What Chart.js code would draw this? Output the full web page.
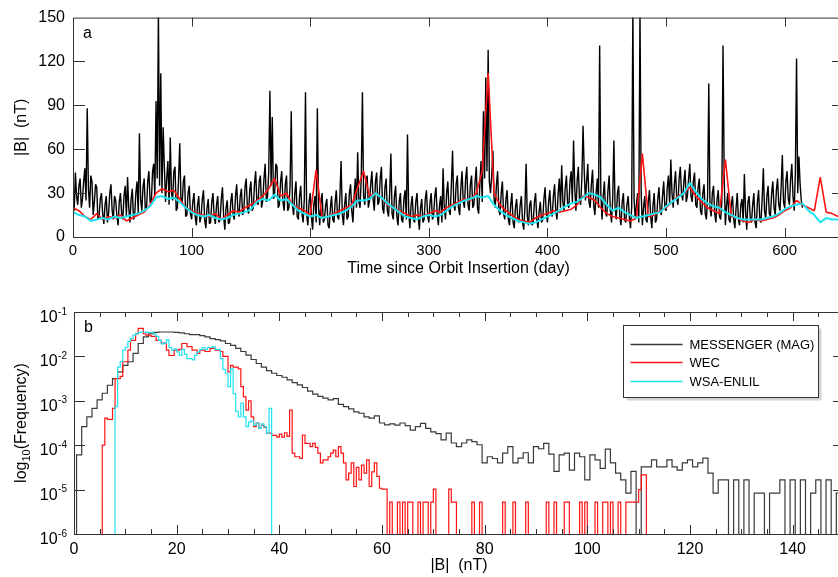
<!DOCTYPE html>
<html>
<head>
<meta charset="utf-8">
<title>|B| at Mercury: MESSENGER vs WEC vs WSA-ENLIL</title>
<script src="https://cdn.jsdelivr.net/npm/chart.js@4.4.1/dist/chart.umd.min.js"></script>
<style>
  html, body { margin: 0; padding: 0; background: #fff; }
  #page { position: relative; width: 838px; height: 577px; overflow: hidden; }
  #page canvas { position: absolute; left: 0; }
  #panelA { top: 0; }
  #panelB { top: 290px; }
</style>
</head>
<body>
<div id="page">
  <canvas id="panelA" width="846" height="290"></canvas>
  <canvas id="panelB" width="846" height="287"></canvas>
</div>
<script>
const FONT = '"Liberation Sans", Arial, Helvetica, sans-serif'
const FRAME = '#333'
const RED = '#ff1414'
const CYAN = '#1ee4f0'
Chart.defaults.font.family = FONT
Chart.defaults.color = '#000'

// ---- panel a: |B| (nT) vs days since orbit insertion ----
const magStep = 1      // days between MAG samples
const modelStep = 5    // days between model samples
const dayTicks = [100, 200, 300, 400, 500, 600]
const fieldTicks = [30, 60, 90, 120]

const magField = [
    30, 18, 44, 28, 22, 35, 40, 20, 26, 38, 47, 25, 88, 33, 20, 42, 38, 15, 24, 36,
    34, 12, 14, 26, 30, 16, 9, 22, 28, 10, 16, 30, 36, 18, 12, 28, 25, 14, 8, 24,
    30, 16, 12, 28, 35, 14, 41, 20, 10, 26, 33, 12, 15, 30, 38, 16, 71, 26, 18, 34,
    40, 18, 20, 38, 45, 24, 22, 44, 50, 28, 93, 40, 155, 35, 112, 30, 75, 48, 24, 40,
    52, 22, 68, 30, 25, 45, 48, 18, 20, 40, 64, 26, 22, 38, 42, 14, 15, 30, 35, 16,
    12, 24, 30, 14, 8, 22, 28, 10, 14, 26, 32, 12, 6, 20, 26, 9, 10, 24, 30, 14,
    9, 22, 28, 10, 12, 26, 34, 14, 5, 20, 25, 9, 10, 24, 30, 15, 12, 28, 36, 18,
    14, 28, 33, 15, 18, 34, 40, 20, 16, 32, 38, 18, 20, 36, 45, 24, 22, 38, 42, 20,
    25, 40, 50, 24, 28, 44, 100, 35, 82, 26, 30, 50, 48, 20, 22, 38, 45, 24, 18, 36,
    42, 18, 20, 35, 86, 22, 15, 30, 38, 14, 12, 28, 35, 16, 10, 26, 99, 15, 8, 24,
    30, 14, 5, 22, 28, 10, 88, 20, 8, 24, 30, 10, 12, 22, 26, 8, 6, 20, 28, 12,
    10, 24, 32, 14, 12, 28, 52, 16, 8, 22, 30, 12, 14, 30, 36, 18, 10, 28, 40, 20,
    58, 24, 20, 40, 99, 28, 22, 38, 42, 20, 25, 36, 45, 26, 18, 38, 44, 22, 24, 40,
    48, 20, 16, 34, 40, 18, 14, 30, 57, 16, 12, 28, 35, 14, 8, 24, 30, 12, 10, 26,
    32, 12, 70, 18, 6, 22, 28, 12, 10, 24, 30, 14, 5, 20, 26, 10, 12, 26, 32, 14,
    10, 24, 30, 12, 14, 28, 34, 16, 8, 22, 28, 10, 47, 20, 12, 30, 38, 18, 15, 36,
    59, 22, 18, 36, 42, 20, 15, 34, 45, 24, 20, 40, 48, 22, 18, 36, 42, 20, 22, 38,
    48, 20, 16, 36, 52, 24, 86, 40, 109, 45, 128, 38, 30, 42, 59, 26, 20, 36, 45, 18,
    15, 30, 38, 16, 12, 26, 32, 12, 8, 22, 30, 10, 6, 20, 26, 12, 10, 22, 28, 10,
    5, 20, 50, 14, 8, 22, 25, 8, 10, 24, 30, 12, 6, 18, 24, 10, 12, 26, 34, 16,
    10, 24, 32, 16, 14, 28, 36, 18, 12, 30, 40, 20, 49, 24, 18, 34, 42, 22, 20, 38,
    45, 24, 66, 34, 18, 38, 48, 26, 22, 40, 76, 45, 25, 38, 50, 24, 20, 36, 46, 22,
    15, 30, 40, 20, 131, 30, 12, 28, 38, 16, 14, 32, 42, 18, 10, 26, 66, 20, 12, 30,
    35, 14, 8, 24, 30, 12, 10, 22, 28, 14, 6, 20, 155, 26, 12, 22, 30, 10, 155, 30,
    8, 20, 28, 12, 10, 24, 32, 14, 6, 22, 30, 10, 12, 26, 34, 18, 15, 28, 38, 20,
    18, 34, 42, 22, 53, 30, 20, 36, 45, 26, 22, 40, 48, 30, 25, 38, 46, 24, 28, 40,
    50, 28, 24, 38, 44, 22, 20, 34, 40, 18, 15, 30, 36, 16, 12, 28, 105, 20, 14, 30,
    35, 16, 10, 26, 32, 14, 12, 24, 131, 40, 8, 22, 30, 12, 10, 22, 28, 12, 6, 20,
    30, 12, 8, 22, 26, 10, 43, 18, 5, 24, 28, 12, 10, 22, 30, 10, 6, 24, 32, 12,
    10, 26, 47, 18, 12, 28, 35, 16, 14, 30, 38, 20, 15, 32, 40, 22, 18, 34, 56, 24,
    20, 38, 45, 26, 22, 40, 50, 28, 18, 44, 122, 30, 55, 36, 25, 20
]
const wecField = [
    20, 18, 14, 12, 16, 12, 14, 13, 15, 11, 13, 15, 17, 22, 30, 33, 31, 32, 26, 20,
    18, 16, 15, 14, 16, 12, 15, 18, 17, 20, 22, 25, 28, 33, 40, 28, 30, 22, 20, 18,
    15, 46, 13, 14, 16, 18, 20, 22, 34, 45, 28, 30, 27, 22, 20, 18, 16, 14, 15, 14,
    16, 18, 17, 20, 22, 24, 26, 25, 30, 45, 112, 30, 22, 18, 15, 12, 11, 10, 13, 15,
    16, 18, 17, 18, 19, 22, 28, 27, 25, 20, 16, 14, 13, 12, 11, 13, 57, 14, 15, 18,
    20, 24, 28, 30, 34, 28, 24, 20, 18, 16, 53, 14, 13, 11, 10, 12, 11, 12, 13, 15,
    18, 20, 25, 22, 20, 18, 41, 17, 16, 14
]
const enlilField = [
    17, 15, 14, 11, 12, 13, 12, 14, 13, 14, 15, 16, 18, 21, 27, 28, 26, 27, 24, 20,
    17, 15, 14, 15, 13, 12, 13, 15, 16, 17, 19, 24, 26, 25, 29, 25, 26, 22, 18, 16,
    14, 15, 13, 14, 15, 16, 18, 21, 25, 25, 26, 30, 27, 23, 20, 17, 14, 13, 12, 14,
    15, 14, 15, 18, 21, 23, 25, 26, 28, 27, 28, 22, 18, 15, 13, 11, 10, 9, 10, 12,
    14, 16, 18, 21, 23, 24, 27, 30, 29, 27, 22, 18, 20, 17, 15, 13, 14, 15, 16, 17,
    21, 24, 27, 30, 37, 31, 26, 23, 21, 20, 17, 15, 13, 12, 12, 12, 12, 13, 14, 16,
    19, 21, 22, 23, 18, 15, 10, 13, 12, 12
]

// ---- panel b: histograms, log10(frequency), null = empty bin ----
const decades = [-1, -2, -3, -4, -5, -6]
// MAG: 1 nT bins centred on 1..149 nT
const magHistLog = [
    -4.22, -3.58, -3.36, -3.17, -2.98, -2.83, -2.65, -2.50, -2.35, -2.20,
    -2.12, -1.93, -1.71, -1.56, -1.49, -1.46, -1.45, -1.45, -1.45, -1.46,
    -1.47, -1.49, -1.51, -1.51, -1.53, -1.56, -1.60, -1.62, -1.65, -1.71,
    -1.75, -1.82, -1.89, -1.97, -2.07, -2.16, -2.24, -2.32, -2.38, -2.43,
    -2.47, -2.53, -2.59, -2.64, -2.70, -2.78, -2.85, -2.90, -2.94, -2.98,
    -2.95, -3.08, -3.13, -3.18, -3.25, -3.28, -3.36, -3.39, -3.34, -3.50,
    -3.54, -3.52, -3.55, -3.50, -3.56, -3.66, -3.58, -3.51, -3.62, -3.70,
    -3.74, -3.88, -3.73, -3.95, -4.03, -3.95, -3.88, -3.92, -3.99, -4.40,
    -4.26, -4.30, -4.40, -4.18, -4.03, -4.40, -4.29, -4.17, -4.40, -4.03,
    -4.08, -3.96, -4.20, -4.59, -4.22, -4.18, -4.56, -4.18, -4.26, -4.78,
    -4.22, -4.33, -4.52, -4.09, -4.40, -4.63, -4.78, -5.08, -4.59, null,
    -4.49, -4.49, -4.33, -4.49, -4.49, -4.33, -4.49, -4.56, -4.40, -4.33,
    -4.49, -4.40, -4.29, -4.63, -5.08, -4.78, -4.78, null, -4.78, null,
    -4.78, null, -5.08, -5.08, null, -5.08, -5.08, -4.78, null, -4.78,
    null, -4.78, null, -5.08, -4.78, null, -4.78, null, -5.08
]
// WEC: left bin edges (nT) and value held until the next edge
const wecEdges = [
    5.5, 6, 6.5, 7.5, 8, 9, 9.5, 10.5, 11, 12,
    12.5, 13.5, 14, 15, 16, 17, 18, 18.5, 19.5, 20.5,
    21, 22, 23, 24, 24.5, 25.5, 26.5, 27.5, 28.5, 29,
    30, 30.5, 31, 32, 32.5, 33, 33.5, 34, 34.5, 35,
    35.5, 36, 36.5, 37, 37.5, 38.5, 39.5, 40, 40.5, 41,
    41.5, 42, 42.5, 43, 44, 44.5, 45, 46, 46.5, 47,
    47.5, 48, 48.5, 49.5, 50, 50.5, 51, 51.5, 52, 52.5,
    53, 53.5, 54, 54.5, 55, 55.5, 56, 56.5, 57, 57.5,
    58, 58.5, 59, 59.5, 60, 61, 61.5, 62, 63, 63.5,
    64, 64.5, 65, 66, 67, 67.5, 68, 69, 69.5, 70,
    70.5, 73, 73.5, 74.5, 77.5, 78, 79, 79.5, 83.5, 84,
    85.5, 86, 88, 88.5, 92, 92.5, 93.5, 94, 95.5, 96.5,
    98.5, 99, 99.5, 100, 101.5, 102, 103, 104, 104.5, 105,
    106, 106.5, 107.5, 110, 110.5, 111.5
]
const wecLog = [
    -4.00, -3.39, -3.42, -3.17, -2.50, -2.45, -2.12, -1.86, -1.64, -1.49,
    -1.37, -1.49, -1.52, -1.55, -1.64, -1.70, -1.86, -1.98, -1.86, -1.84,
    -1.71, -1.78, -1.86, -1.93, -1.86, -1.89, -1.82, -1.86, -1.89, -2.00,
    -2.35, -2.20, -2.24, -2.28, -2.68, -2.91, -3.21, -3.00, -3.36, -3.58,
    -3.50, -3.62, -3.55, -3.60, -3.73, -3.78, -3.82, -3.75, -3.82, -3.72,
    -3.80, -3.21, -4.18, -4.26, -4.30, -3.77, -3.96, -4.03, -3.96, -4.05,
    -4.18, -4.40, -4.33, -4.26, -4.18, -4.11, -4.26, -4.03, -4.18, -4.40,
    -4.78, -4.63, -4.40, -4.93, -4.50, -4.78, -4.45, -4.63, -4.33, -4.93,
    -4.60, -4.40, -4.70, -4.97, -4.99, null, -5.28, null, -5.28, null,
    -5.28, null, -5.28, null, -5.28, null, -5.28, null, -5.28, -4.99,
    null, -4.99, -5.28, null, -5.28, null, -5.28, null, -5.28, null,
    -5.28, null, -5.28, null, -5.28, null, -5.28, null, -5.28, null,
    -5.28, null, -5.28, null, -5.28, null, -5.28, null, -5.28, null,
    -5.28, null, -5.28, -5.00, -4.67, null
]
const enlilEdges = [
    8, 8.5, 9, 9.5, 10, 10.5, 11, 11.5, 12, 12.5,
    13, 14, 15.5, 16, 16.5, 17, 17.5, 18, 18.5, 19,
    19.5, 20, 20.5, 21, 21.5, 22, 23, 23.5, 24, 24.5,
    25, 25.5, 26, 27, 27.5, 28.5, 29, 29.5, 30, 30.5,
    31, 31.5, 32, 32.5, 33, 33.5, 34, 34.5, 35, 35.5,
    36, 36.5, 37, 37.5, 38, 38.5
]
const enlilLog = [
    -3.13, -2.24, -2.12, -1.86, -1.80, -1.66, -1.60, -1.52, -1.49, -1.46,
    -1.45, -1.46, -1.50, -1.55, -1.64, -1.72, -1.70, -1.63, -1.80, -1.86,
    -1.83, -1.90, -1.98, -1.84, -1.95, -2.05, -2.08, -1.97, -1.90, -1.84,
    -1.80, -1.84, -1.80, -1.78, -1.84, -2.05, -2.29, -2.38, -2.68, -2.28,
    -2.84, -3.24, -3.36, -3.05, -3.36, -3.58, -3.48, -3.45, -3.55, -3.50,
    -3.62, -3.52, -3.58, -3.73, -3.17, null
]
const FLOOR = 1e-7   // below the axis, so empty bins drop out of the plot

function timePoints(values, step) {
    return values.map((v, i) => ({ x: i * step, y: v }))
}

function histPoints(edges, logs) {
    const pts = [{ x: edges[0], y: FLOOR }]
    edges.forEach((e, i) => {
        pts.push({ x: e, y: logs[i] === null ? FLOOR : Math.pow(10, logs[i]) })
    })
    return pts
}

function magHistPoints() {
    const edges = magHistLog.map((_, i) => i + 0.5)
    edges.push(magHistLog.length + 0.5)
    return histPoints(edges, magHistLog.concat([null]))
}

// frame, inward ticks, panel letter (+ extras)
function panelDecor(cfg) {
    return {
        id: 'panelDecor',
        afterDatasetsDraw(chart) {
            const { ctx, chartArea: a } = chart
            const xs = chart.scales.x
            const ys = chart.scales.y
            ctx.save()
            ctx.strokeStyle = FRAME
            ctx.lineWidth = 1
            ctx.beginPath()
            cfg.xTicks.forEach(([v, len]) => {
                const px = Math.round(xs.getPixelForValue(v)) + 0.5
                ctx.moveTo(px, a.bottom); ctx.lineTo(px, a.bottom - len)
                ctx.moveTo(px, a.top); ctx.lineTo(px, a.top + len)
            })
            cfg.yTicks.forEach(([v, len]) => {
                const py = Math.round(ys.getPixelForValue(v)) + 0.5
                ctx.moveTo(a.left, py); ctx.lineTo(a.left + len, py)
                ctx.moveTo(a.right, py); ctx.lineTo(a.right - len, py)
            })
            ctx.stroke()
            ctx.strokeRect(a.left + 0.5, a.top + 0.5, a.right - a.left - 1, a.bottom - a.top)
            ctx.fillStyle = '#000'
            ctx.font = '16px ' + FONT
            ctx.textAlign = 'left'
            ctx.textBaseline = 'alphabetic'
            ctx.fillText(cfg.tag, a.left + 10, a.top + 20)
            if (cfg.extra) cfg.extra(chart)
            ctx.restore()
        }
    }
}

new Chart(document.getElementById('panelA'), {
    type: 'line',
    data: {
        datasets: [
            { label: 'MESSENGER (MAG)', data: timePoints(magField, magStep), borderColor: '#000', borderWidth: 1.4, order: 3 },
            { label: 'WEC', data: timePoints(wecField, modelStep), borderColor: RED, borderWidth: 1.6, order: 2 },
            { label: 'WSA-ENLIL', data: timePoints(enlilField, modelStep), borderColor: CYAN, borderWidth: 2, order: 1 }
        ]
    },
    options: {
        responsive: false,
        animation: false,
        devicePixelRatio: 1,
        layout: { padding: { top: 15, right: 2, left: 0, bottom: 0 } },
        elements: { point: { radius: 0 }, line: { tension: 0, borderJoinStyle: 'bevel' } },
        plugins: { legend: { display: false }, tooltip: { enabled: false } },
        scales: {
            x: {
                type: 'linear', min: 0, max: 650,
                grid: { display: false, drawTicks: false }, border: { display: false },
                ticks: { stepSize: 100, includeBounds: false, padding: 5, maxRotation: 0, font: { size: 15 } },
                title: { display: true, text: 'Time since Orbit Insertion (day)', font: { size: 16 }, padding: { top: 0, bottom: 12 } },
                afterFit: s => { s.height = 53 }
            },
            y: {
                min: 0, max: 150,
                grid: { display: false, drawTicks: false }, border: { display: false },
                ticks: { stepSize: 30, padding: 8, font: { size: 16 } },
                title: { display: true, text: '|B|  (nT)', font: { size: 16 }, padding: { top: 12, bottom: 0 } },
                afterFit: s => { s.width = 73 }
            }
        }
    },
    plugins: [panelDecor({
        tag: 'a',
        xTicks: dayTicks.map(v => [v, 9]),
        yTicks: fieldTicks.map(v => [v, 12])
    })]
})

const binTicks = []
for (let v = 5; v < 150; v += 5) binTicks.push([v, v % 20 === 0 ? 9 : 5])

function drawPanelBExtras(chart) {
    const { ctx, chartArea: a } = chart
    const ys = chart.scales.y
    // decade labels 10^n
    ctx.fillStyle = '#000'
    ctx.textAlign = 'right'
    ctx.textBaseline = 'alphabetic'
    decades.forEach(k => {
        const py = ys.getPixelForValue(Math.pow(10, k))
        ctx.font = '10px ' + FONT
        const exp = String(k)
        const ew = ctx.measureText(exp).width
        ctx.fillText(exp, a.left - 7, py + 2.5)
        ctx.font = '16px ' + FONT
        ctx.fillText('10', a.left - 7 - ew - 0.5, py + 10)
    })
    // y title: log10(Frequency)
    ctx.save()
    ctx.translate(26, (a.top + a.bottom) / 2)
    ctx.rotate(-Math.PI / 2)
    ctx.textAlign = 'left'
    ctx.font = '16px ' + FONT
    const w1 = ctx.measureText('log').width
    const w3 = ctx.measureText('(Frequency)').width
    ctx.font = '11px ' + FONT
    const w2 = ctx.measureText('10').width
    let tx = -(w1 + w2 + w3) / 2
    ctx.font = '16px ' + FONT
    ctx.fillText('log', tx, 0)
    ctx.font = '11px ' + FONT
    ctx.fillText('10', tx + w1, 4)
    ctx.font = '16px ' + FONT
    ctx.fillText('(Frequency)', tx + w1 + w2, 0)
    ctx.restore()
    // legend box
    const bx = a.left + 549.5, by = a.top + 13.5, bw = 195, bh = 72
    ctx.fillStyle = '#d4d4d4'
    ctx.fillRect(bx + 3, by + 3, bw, bh)
    ctx.fillStyle = '#fff'
    ctx.fillRect(bx, by, bw, bh)
    ctx.strokeStyle = FRAME
    ctx.lineWidth = 1
    ctx.strokeRect(bx, by, bw, bh)
    ctx.font = '13px ' + FONT
    ctx.textAlign = 'left'
    ctx.textBaseline = 'middle'
    chart.data.datasets.forEach((ds, i) => {
        const ly = Math.round(by + 18 + i * 18.7) + 0.5
        ctx.strokeStyle = ds.borderColor
        ctx.lineWidth = 1.3
        ctx.beginPath()
        ctx.moveTo(bx + 7, ly)
        ctx.lineTo(bx + 59, ly)
        ctx.stroke()
        ctx.fillStyle = '#000'
        ctx.fillText(ds.label, bx + 66, ly + 0.5)
    })
}

new Chart(document.getElementById('panelB'), {
    type: 'line',
    data: {
        datasets: [
            { label: 'MESSENGER (MAG)', data: magHistPoints(), borderColor: '#3a3a3a', borderWidth: 1.2, stepped: true, order: 3 },
            { label: 'WEC', data: histPoints(wecEdges, wecLog), borderColor: RED, borderWidth: 1.2, stepped: true, order: 2 },
            { label: 'WSA-ENLIL', data: histPoints(enlilEdges, enlilLog), borderColor: CYAN, borderWidth: 1.2, stepped: true, order: 1 }
        ]
    },
    options: {
        responsive: false,
        animation: false,
        devicePixelRatio: 1,
        layout: { padding: { top: 22, right: 2, left: 0, bottom: 0 } },
        elements: { point: { radius: 0 }, line: { tension: 0 } },
        plugins: { legend: { display: false }, tooltip: { enabled: false } },
        scales: {
            x: {
                type: 'linear', min: 0, max: 150,
                grid: { display: false, drawTicks: false }, border: { display: false },
                ticks: { stepSize: 20, includeBounds: false, padding: 6, maxRotation: 0, font: { size: 16 } },
                title: { display: true, text: '|B|  (nT)', font: { size: 16 }, padding: { top: 0, bottom: 2 } },
                afterFit: s => { s.height = 43 }
            },
            y: {
                type: 'logarithmic', min: 1e-6, max: 1e-1,
                grid: { display: false, drawTicks: false }, border: { display: false },
                ticks: { display: false },
                afterFit: s => { s.width = 74 }
            }
        }
    },
    plugins: [panelDecor({
        tag: 'b',
        xTicks: binTicks,
        yTicks: decades.map(k => [Math.pow(10, k), 11]),
        extra: drawPanelBExtras
    })]
})
</script>
</body>
</html>
